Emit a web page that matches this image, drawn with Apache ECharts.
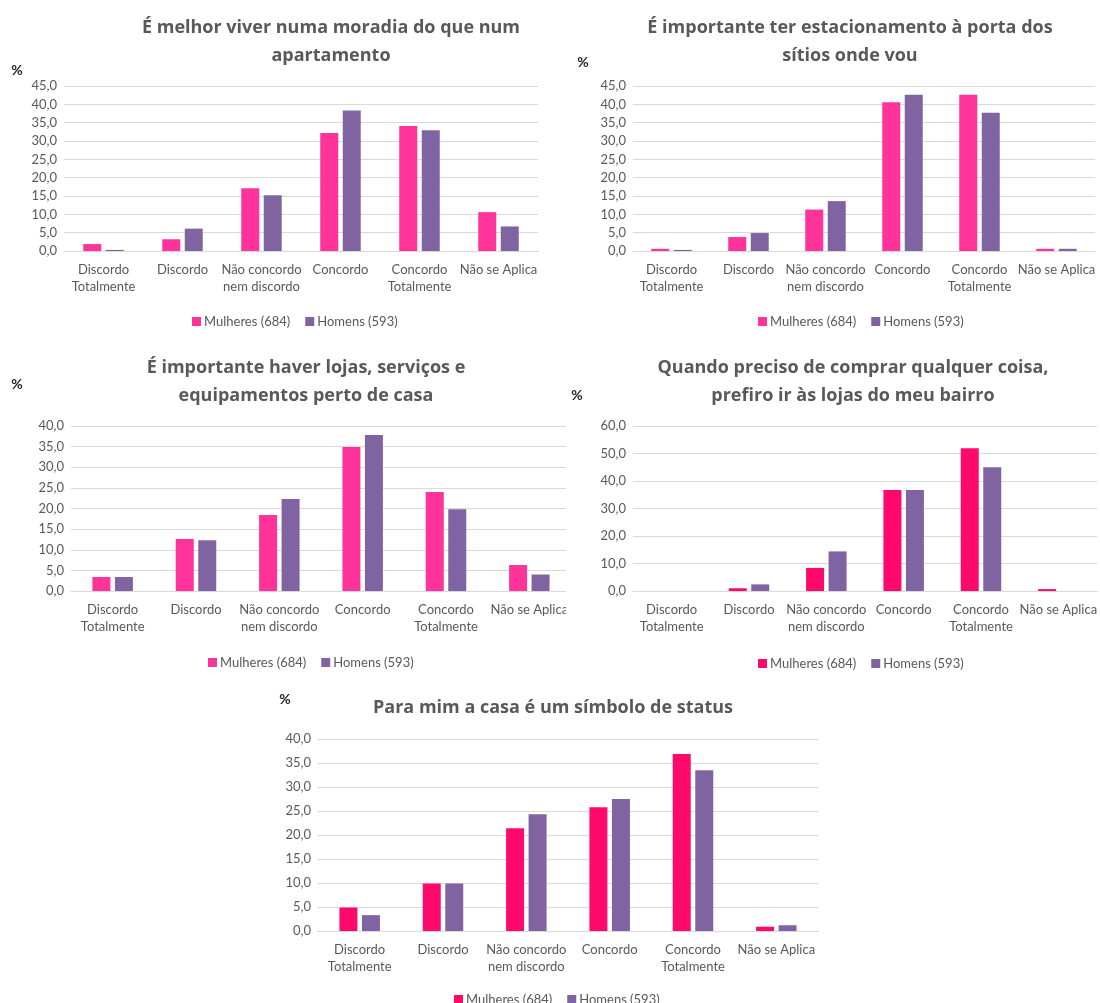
<!DOCTYPE html>
<html>
<head>
<meta charset="utf-8">
<script src="https://cdn.jsdelivr.net/npm/echarts@6/dist/echarts.min.js"></script>
<style>
  html, body { margin: 0; padding: 0; background: #fff; }
  #chart { width: 1100px; height: 1003px; }
</style>
</head>
<body>
<div id="chart"></div>
<script>
// Response categories shared by every panel
const categories = ['Discordo\nTotalmente', 'Discordo', 'Não concordo\nnem discordo', 'Concordo', 'Concordo\nTotalmente', 'Não se Aplica'];
const seriesNames = ['Mulheres (684)', 'Homens (593)'];

// Percentages per statement
const moradiaMulheres = [1.9, 3.2, 17.1, 32.2, 34.1, 10.6];
const moradiaHomens = [0.3, 6.1, 15.2, 38.3, 32.9, 6.7];

const estacionamentoMulheres = [0.6, 3.8, 11.3, 40.6, 42.6, 0.6];
const estacionamentoHomens = [0.3, 4.9, 13.6, 42.6, 37.7, 0.6];

const lojasMulheres = [3.4, 12.6, 18.4, 34.9, 24.0, 6.3];
const lojasHomens = [3.4, 12.3, 22.3, 37.8, 19.8, 4.0];

const bairroMulheres = [0, 1.0, 8.4, 36.7, 51.9, 0.7];
const bairroHomens = [0, 2.4, 14.4, 36.7, 45.0, 0];

const statusMulheres = [4.9, 9.9, 21.4, 25.8, 36.9, 0.9];
const statusHomens = [3.3, 9.9, 24.3, 27.5, 33.5, 1.2];

// Value-axis ranges
const axisMax = [45, 45, 40, 60, 40];
const axisStep = [5, 5, 5, 10, 5];

const titles = [
  'É melhor viver numa moradia do que num\napartamento',
  'É importante ter estacionamento à porta dos\nsítios onde vou',
  'É importante haver lojas, serviços e\nequipamentos perto de casa',
  'Quando preciso de comprar qualquer coisa,\nprefiro ir às lojas do meu bairro',
  'Para mim a casa é um símbolo de status'
];

const PINK = '#FF3399';
const RED_PINK = '#FF0A6C';
const PURPLE = '#8064A2';
const TEXT = '#595959';
const FONT = 'Lato, "Open Sans", sans-serif';
const TITLE_FONT = '"Open Sans", Lato, sans-serif';

// Panel layout: plot box, title anchor, "%" mark, legend left edge
const panels = [
  { m: moradiaMulheres, h: moradiaHomens, pink: PINK,
    grid: { left: 64, top: 86, width: 474, height: 165 },
    title: [331, 14], pct: [17, 70], legend: [187, 310] },
  { m: estacionamentoMulheres, h: estacionamentoHomens, pink: PINK,
    grid: { left: 633, top: 86, width: 462, height: 165 },
    title: [850, 14], pct: [583, 62], legend: [753, 310] },
  { m: lojasMulheres, h: lojasHomens, pink: PINK,
    grid: { left: 71, top: 426, width: 500, height: 165 },
    title: [306, 354], pct: [17, 384], legend: [203, 651] },
  { m: bairroMulheres, h: bairroHomens, pink: RED_PINK,
    grid: { left: 633, top: 426, width: 464, height: 165 },
    title: [853, 354], pct: [577, 395], legend: [753, 652] },
  { m: statusMulheres, h: statusHomens, pink: RED_PINK,
    grid: { left: 318, top: 739, width: 500, height: 192 },
    title: [553, 694], pct: [285, 699], legend: [449, 988] }
];

const option = {
  animation: false,
  backgroundColor: '#fff',
  textStyle: { fontFamily: FONT },
  grid: [], xAxis: [], yAxis: [], series: [], legend: [], graphic: []
};

panels.forEach((p, i) => {
  option.grid.push(Object.assign({ containLabel: false, outerBoundsMode: 'none' }, p.grid));
  option.xAxis.push({
    type: 'category', gridIndex: i, data: categories,
    axisLine: { show: true, lineStyle: { color: '#D9D9D9', width: 1 } },
    axisTick: { show: false },
    axisLabel: { color: TEXT, fontSize: 13, fontFamily: FONT, interval: 0, margin: 10, lineHeight: 17 }
  });
  option.yAxis.push({
    type: 'value', gridIndex: i, min: 0, max: axisMax[i], interval: axisStep[i],
    axisLine: { show: false }, axisTick: { show: false },
    splitLine: { lineStyle: { color: '#D9D9D9', width: 1 } },
    axisLabel: { color: TEXT, fontSize: 13, fontFamily: FONT, margin: 7,
      formatter: v => v.toFixed(1).replace('.', ',') }
  });
  option.series.push({
    type: 'bar', name: seriesNames[0], xAxisIndex: i, yAxisIndex: i, data: p.m,
    barWidth: 18, barGap: '25%', itemStyle: { color: p.pink }
  });
  option.series.push({
    type: 'bar', name: seriesNames[1], xAxisIndex: i, yAxisIndex: i, data: p.h,
    barWidth: 18, barGap: '25%', itemStyle: { color: PURPLE }
  });
  option.legend.push({
    left: p.legend[0], top: p.legend[1], orient: 'horizontal',
    itemWidth: 9, itemHeight: 9, itemGap: 15, selectedMode: false,
    icon: 'rect',
    textStyle: { color: TEXT, fontSize: 13, fontFamily: FONT, padding: [0, 0, 0, -2] },
    data: [
      { name: seriesNames[0], itemStyle: { color: p.pink } },
      { name: seriesNames[1], itemStyle: { color: PURPLE } }
    ]
  });
  option.graphic.push({
    type: 'text', x: p.title[0], y: p.title[1], z: 10,
    style: { text: titles[i], fill: TEXT, font: 'bold 18px ' + TITLE_FONT,
      textAlign: 'center', textVerticalAlign: 'top', lineHeight: 28 }
  });
  option.graphic.push({
    type: 'text', x: p.pct[0], y: p.pct[1], z: 10,
    style: { text: '%', fill: '#262626', font: 'bold 14px ' + FONT,
      textAlign: 'center', textVerticalAlign: 'middle' }
  });
});

// The lojas panel is trimmed on its right edge
option.graphic.push({
  type: 'rect', z: 100, shape: { x: 566, y: 415, width: 24, height: 230 },
  style: { fill: '#fff' }
});

const chart = echarts.init(document.getElementById('chart'), null, { renderer: 'canvas' });
chart.setOption(option);
</script>
</body>
</html>
